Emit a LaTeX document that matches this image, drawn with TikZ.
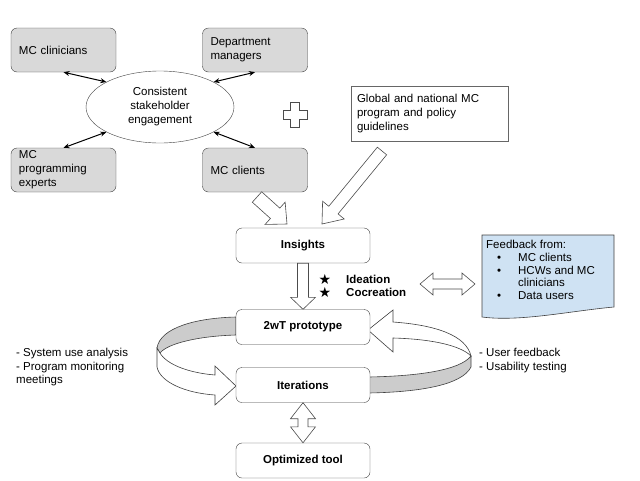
\documentclass[tikz,border=0pt]{standalone}
\usepackage{fontspec}
\setmainfont{Liberation Sans}
\newfontfamily\symfont{DejaVu Sans}
\usetikzlibrary{shapes.geometric,arrows.meta,calc}

\definecolor{boxgray}{HTML}{D9D9D9}
\definecolor{bandgray}{HTML}{CCCCCC}
\definecolor{notefill}{HTML}{CFE2F3}

% block arrow: tail, tip, shaft half width, head half width, head length
\newcommand{\fatarrow}[5]{%
  \coordinate (fa-h) at ($(#2)!#5!(#1)$);
  \draw[blockline] ($(#1)!#3!90:(#2)$) -- ($(fa-h)!#3!90:(#2)$) -- ($(fa-h)!#4!90:(#2)$)
    -- (#2) -- ($(fa-h)!#4!-90:(#2)$) -- ($(fa-h)!#3!-90:(#2)$) -- ($(#1)!#3!-90:(#2)$) -- cycle;
}
% block arrow with two heads
\newcommand{\fatdouble}[5]{%
  \coordinate (fd-a) at ($(#1)!#5!(#2)$);
  \coordinate (fd-b) at ($(#2)!#5!(#1)$);
  \draw[blockline] (#1) -- ($(fd-a)!#4!90:(#2)$) -- ($(fd-a)!#3!90:(#2)$) -- ($(fd-b)!#3!90:(#2)$)
    -- ($(fd-b)!#4!90:(#2)$) -- (#2) -- ($(fd-b)!#4!-90:(#2)$) -- ($(fd-b)!#3!-90:(#2)$)
    -- ($(fd-a)!#3!-90:(#2)$) -- ($(fd-a)!#4!-90:(#2)$) -- cycle;
}

\tikzset{
  stake/.style={draw=black!75, fill=boxgray, rounded corners=6pt, minimum width=105pt,
    minimum height=44pt, text width=89pt, align=left, inner xsep=8pt, inner ysep=0pt},
  stage/.style={draw=black!75, fill=white, rounded corners=6pt, minimum width=134pt,
    minimum height=35pt, font=\bfseries, inner sep=0pt},
  stakearrow/.style={{Stealth[length=6pt,width=5pt]}-{Stealth[length=6pt,width=5pt]}, line width=1pt},
  blockline/.style={draw=black!70, fill=white, line width=0.6pt, line join=miter},
  band/.style={draw=black!75, line width=0.6pt, line join=miter}
}

\begin{document}
\fontsize{11.5}{14}\selectfont
\begin{tikzpicture}[x=1pt, y=-1pt]
            \useasboundingbox (0,0) rectangle (640,480);

            % Stakeholders
            \node[stake] (clin) at (63.5,50) {MC clinicians};
            \node[stake] (mgr) at (255,50) {Department\\managers};
            \node[stake] (exp) at (63.5,170) {MC\\programming\\experts};
            \node[stake] (cli) at (255,170) {MC clients};
            \node[draw=black!75, ellipse, fill=white, minimum width=148pt, minimum height=72pt,
                  inner sep=0pt, align=center] (eng) at (160,107) {Consistent\\stakeholder\\engagement};

            \draw[stakearrow] (clin.south) -- (eng.155);
            \draw[stakearrow] (mgr.south) -- (eng.25);
            \draw[stakearrow] (exp.north) -- (eng.205);
            \draw[stakearrow] (cli.north) -- (eng.335);

            % Plus sign
            \draw[blockline] (290.5,102) -- (299.5,102) -- (299.5,110) -- (307,110) -- (307,119)
                -- (299.5,119) -- (299.5,127) -- (290.5,127) -- (290.5,119) -- (283,119)
                -- (283,110) -- (290.5,110) -- cycle;

            % Guidelines
            \node[draw=black!60, fill=white, minimum width=157pt, minimum height=55pt, text width=145pt,
                  align=left, inner xsep=6pt, inner ysep=0pt] (glob) at (429.5,113.5)
                  {Global and national MC\\program and policy\\guidelines};

            % Loops (drawn before the stages)
            \draw[band, fill=bandgray] (236,317) .. controls (195,318) and (160,328) .. (157,348)
                -- (160,353) .. controls (168,343) and (200,336) .. (236,335) -- cycle;
            \draw[band, fill=white] (157,348) -- (157,367) .. controls (160,382) and (185,393) .. (215,395)
                -- (215,405) -- (236,386) -- (215,366) -- (215,375)
                .. controls (190,373) and (167,365) .. (160,353) -- cycle;
            \draw[band, fill=white] (393,310) -- (393,322) .. controls (435,325) and (466,335) .. (471,356)
                .. controls (460,345) and (430,339) .. (393,338) -- (393,352) -- (368,330) -- cycle;
            \draw[band, fill=bandgray] (471,356) -- (471,367) .. controls (462,385) and (420,392) .. (369,393)
                -- (369,377) .. controls (420,376) and (460,370) .. (471,356) -- cycle;

            % Stages
            \node[stage] (ins) at (303,245.5) {Insights};
            \node[stage] (proto) at (303,327) {2wT prototype};
            \node[stage] (iter) at (303,385) {Iterations};
            \node[stage] (opt) at (303,460.5) {Optimized tool};

            % Block arrows
            \coordinate (t1) at (257,197);
            \coordinate (h1) at (287,224);
            \fatarrow{t1}{h1}{7pt}{15pt}{16pt}
            \coordinate (t2) at (382,151);
            \coordinate (h2) at (322,224);
            \fatarrow{t2}{h2}{6pt}{14pt}{18pt}
            \fatarrow{ins.south}{proto.north}{5.5pt}{12.5pt}{12pt}
            \fatdouble{iter.south}{opt.north}{5pt}{12.5pt}{16pt}
            \coordinate (d1) at (420,284);
            \coordinate (d2) at (475,284);
            \fatdouble{d1}{d2}{5pt}{11pt}{13pt}

            % Ideation
            \node[align=center, inner sep=0pt, font=\fontsize{14}{13}\selectfont] (stars) at (325,285.5)
                {\symfont ★\\\symfont ★};
            \node[anchor=west, align=left, inner sep=0pt, font=\fontsize{11.5}{13}\selectfont\bfseries]
                (ideas) at (346,285.5) {Ideation\\Cocreation};

            % Feedback note
            \draw[draw=black!75, fill=notefill, line width=0.6pt] (482,235) -- (614,235) -- (614,307)
                .. controls (570,311) and (520,322) .. (482,317) -- cycle;
            \node[anchor=north west, align=left, inner sep=0pt, font=\fontsize{11.5}{12.8}\selectfont]
                (fbtext) at (486,240) {Feedback from:\\
                \makebox[32pt][l]{\hspace{11pt}\textbullet}MC clients\\
                \makebox[32pt][l]{\hspace{11pt}\textbullet}HCWs and MC\\
                \hspace*{32pt}clinicians\\
                \makebox[32pt][l]{\hspace{11pt}\textbullet}Data users};

            % Loop labels
            \node[anchor=north west, align=left, inner sep=0pt, font=\fontsize{11.5}{13.5}\selectfont]
                (sysuse) at (16,348) {- System use analysis\\- Program monitoring\\meetings};
            \node[anchor=north west, align=left, inner sep=0pt, font=\fontsize{11.5}{13.5}\selectfont]
                (userfb) at (479,348) {- User feedback\\- Usability testing};
\end{tikzpicture}
\end{document}
